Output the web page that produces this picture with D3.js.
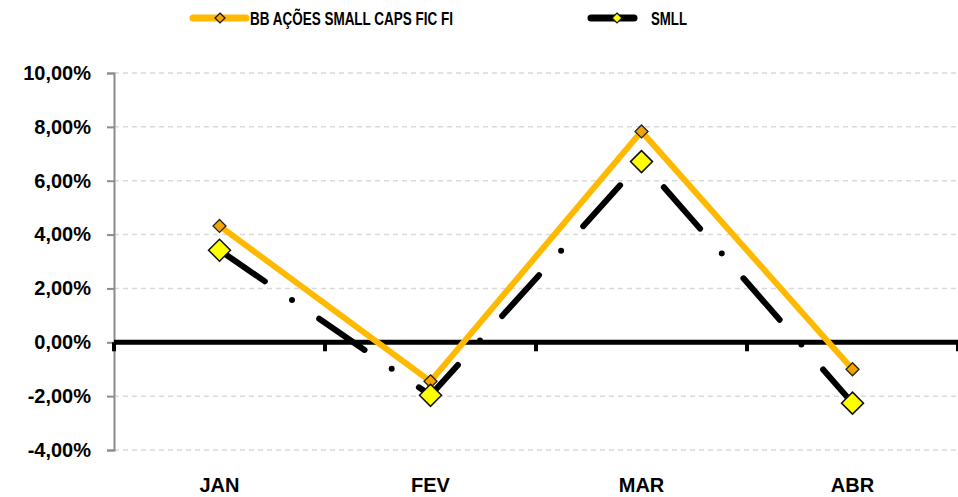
<!DOCTYPE html>
<html>
<head>
  <script src="https://d3js.org/d3.v7.min.js"></script>
  <style>
    body { margin: 0; background: #fff; }
    text { font-family: "Liberation Sans", Arial, sans-serif; font-weight: bold; fill: #000; }
    .grid line { stroke: #d9d9d9; stroke-width: 1.5; stroke-dasharray: 5,4; }
  </style>
</head>
<body>
<script>
  var months = ["JAN", "FEV", "MAR", "ABR"];
  var bbValues = [0.0432, -0.0145, 0.0783, -0.0100];
  var smllValues = [0.0342, -0.0197, 0.0671, -0.0226];
  var yTicks = [-0.04, -0.02, 0, 0.02, 0.04, 0.06, 0.08, 0.10];
  var seriesNames = ["BB AÇÕES SMALL CAPS FIC FI", "SMLL"];

  var width = 958, height = 497;
  var plotLeft = 114, plotRight = 958, plotTop = 73, plotBottom = 450;

  var svg = d3.select("body").append("svg")
    .attr("width", width)
    .attr("height", height);

  var x = d3.scaleBand().domain(months).range([plotLeft, plotRight]);
  var y = d3.scaleLinear().domain([-0.04, 0.10]).range([plotBottom, plotTop]);

  var fmt = function(d) {
    return (d * 100).toFixed(2).replace(".", ",") + "%";
  };

  // gridlines
  svg.append("g").attr("class", "grid")
    .selectAll("line")
    .data(yTicks.filter(function(d) { return d !== 0; }))
    .enter().append("line")
    .attr("x1", plotLeft).attr("x2", plotRight)
    .attr("y1", function(d) { return y(d); })
    .attr("y2", function(d) { return y(d); });

  // y axis
  var yAxis = svg.append("g")
    .attr("transform", "translate(" + plotLeft + ",0)")
    .call(d3.axisLeft(y).tickValues(yTicks).tickFormat(fmt).tickSize(7).tickPadding(16));
  yAxis.select(".domain").attr("stroke", "#8c8c8c").attr("stroke-width", 2);
  yAxis.selectAll(".tick line").attr("stroke", "#8c8c8c").attr("stroke-width", 2);
  yAxis.selectAll(".tick text")
    .style("font-size", "20px")
    .style("font-family", "'Liberation Sans', Arial, sans-serif");

  // zero axis line with ticks at band edges
  var zero = y(0);
  svg.append("line")
    .attr("x1", plotLeft).attr("x2", plotRight)
    .attr("y1", zero).attr("y2", zero)
    .attr("stroke", "#000").attr("stroke-width", 5);
  var edges = months.map(function(m) { return x(m); }).concat([plotRight]);
  svg.selectAll(".xtick")
    .data(edges)
    .enter().append("line")
    .attr("class", "xtick")
    .attr("x1", function(d) { return d; })
    .attr("x2", function(d) { return d; })
    .attr("y1", zero).attr("y2", zero + 9)
    .attr("stroke", "#000").attr("stroke-width", 4);

  // month labels
  svg.selectAll(".mlabel")
    .data(months)
    .enter().append("text")
    .attr("class", "mlabel")
    .attr("x", function(d) { return x(d) + x.bandwidth() / 2; })
    .attr("y", 492)
    .attr("text-anchor", "middle")
    .style("font-size", "20px")
    .text(function(d) { return d; });

  var line = d3.line()
    .x(function(d, i) { return x(months[i]) + x.bandwidth() / 2; })
    .y(function(d) { return y(d); });

  // SMLL line
  svg.append("path")
    .datum(smllValues)
    .attr("d", line)
    .attr("fill", "none")
    .attr("stroke", "#000")
    .attr("stroke-width", 6)
    .attr("stroke-linecap", "round")
    .attr("stroke-dasharray", "55,33,0,33");

  // BB line
  svg.append("path")
    .datum(bbValues)
    .attr("d", line)
    .attr("fill", "none")
    .attr("stroke", "#FFB900")
    .attr("stroke-width", 6)
    .attr("stroke-linejoin", "miter");

  function diamond(r) {
    return "M0," + (-r) + "L" + r + ",0L0," + r + "L" + (-r) + ",0Z";
  }

  svg.selectAll(".bbm")
    .data(bbValues)
    .enter().append("path")
    .attr("class", "bbm")
    .attr("transform", function(d, i) {
      return "translate(" + (x(months[i]) + x.bandwidth() / 2) + "," + y(d) + ")";
    })
    .attr("d", diamond(6.5))
    .attr("fill", "#F2A500")
    .attr("stroke", "#222")
    .attr("stroke-width", 1.3);

  svg.selectAll(".smm")
    .data(smllValues)
    .enter().append("path")
    .attr("class", "smm")
    .attr("transform", function(d, i) {
      return "translate(" + (x(months[i]) + x.bandwidth() / 2) + "," + y(d) + ")";
    })
    .attr("d", diamond(11))
    .attr("fill", "#FFFF00")
    .attr("stroke", "#111")
    .attr("stroke-width", 1.5);

  // legend
  var legend = [
    { name: seriesNames[0], x1: 193, x2: 246, mx: 220, color: "#FFB900", mfill: "#F2A500", tx: 250, tw: 203 },
    { name: seriesNames[1], x1: 591, x2: 634, mx: 617, color: "#000", mfill: "#FFFF00", tx: 651, tw: 36 }
  ];
  var lg = svg.selectAll(".legend").data(legend).enter().append("g").attr("class", "legend");
  lg.append("line")
    .attr("x1", function(d) { return d.x1; })
    .attr("x2", function(d) { return d.x2; })
    .attr("y1", 18).attr("y2", 18)
    .attr("stroke", function(d) { return d.color; })
    .attr("stroke-width", 7)
    .attr("stroke-linecap", "round");
  lg.append("path")
    .attr("transform", function(d) { return "translate(" + d.mx + ",18)"; })
    .attr("d", diamond(5))
    .attr("fill", function(d) { return d.mfill; })
    .attr("stroke", "#111")
    .attr("stroke-width", 1.2);
  lg.append("text")
    .attr("x", function(d) { return d.tx; })
    .attr("y", 25)
    .attr("textLength", function(d) { return d.tw; })
    .attr("lengthAdjust", "spacingAndGlyphs")
    .style("font-size", "18px")
    .text(function(d) { return d.name; });
</script>
</body>
</html>
